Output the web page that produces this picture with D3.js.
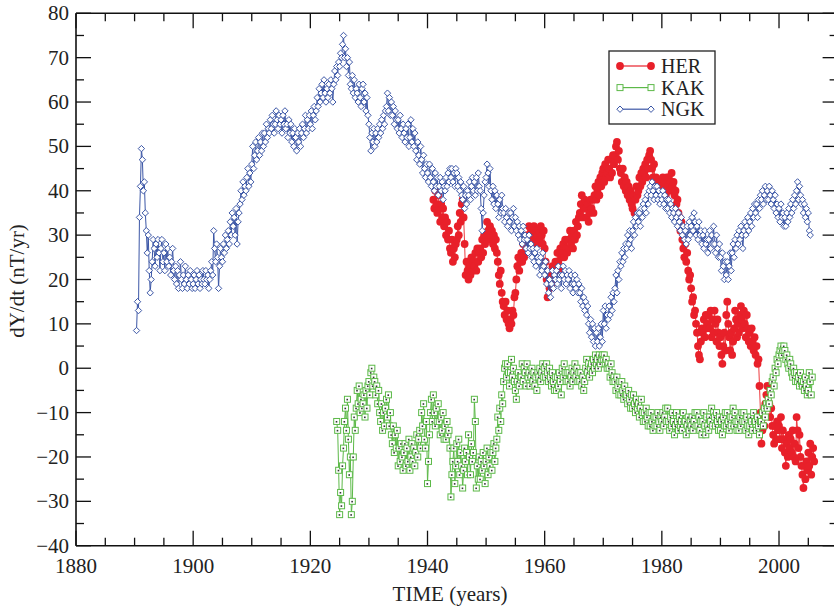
<!DOCTYPE html>
<html>
<head>
<meta charset="utf-8">
<script src="https://cdn.jsdelivr.net/npm/d3@7"></script>
<style>
  body { margin: 0; background: #fff; }
  svg { display: block; font-family: 'Liberation Serif', 'Times New Roman', serif; }
</style>
</head>
<body>
<div id="viz"></div>
<script>
// six samples per year (one row per year), first sample at the given start
const samplesPerYear = 6;

const ngkStart = 1890 + 2 / 6;
const ngkValues = [
  8.5, 15, 13, 34,
  41, 49.5, 47, 40, 42, 35,
  31, 26, 30, 22, 17, 20,
  24, 29, 27, 23, 28, 25,
  29, 26, 22, 27, 29, 24,
  26, 22, 28, 24, 27, 23,
  25, 21, 24, 27, 22, 20,
  23, 19, 22, 18, 21, 24,
  20, 18, 21, 19, 23, 20,
  18, 21, 19, 22, 20, 18,
  19, 21, 18, 20, 22, 19,
  21, 18, 20, 19, 22, 20,
  19, 22, 20, 21, 18, 20,
  22, 24, 21, 31, 27, 24,
  28, 25, 18, 23, 27, 25,
  24, 28, 26, 30, 27, 29,
  31, 28, 33, 30, 35, 32,
  34, 30, 36, 28, 33, 35,
  37, 40, 38, 42, 39, 41,
  40, 43, 45, 41, 44, 42,
  46, 50, 45, 48, 51, 47,
  49, 52, 48, 51, 49, 53,
  50, 53, 51, 55, 52, 54,
  53, 56, 54, 57, 55, 53,
  55, 58, 56, 54, 57, 55,
  56, 53, 57, 55, 58, 54,
  55, 52, 56, 53, 55, 51,
  53, 50, 54, 52, 49, 53,
  51, 54, 50, 53, 55, 52,
  54, 57, 53, 56, 54, 57,
  55, 58, 54, 57, 59, 56,
  58, 61, 59, 63, 60, 62,
  64, 61, 65, 62, 60, 63,
  61, 64, 62, 65, 63, 60,
  64, 67, 65, 68, 66, 69,
  68, 71, 70, 73, 75, 70,
  72, 68, 70, 66, 69, 64,
  63, 66, 62, 65, 61, 63,
  62, 60, 64, 61, 59, 63,
  64, 60, 62, 58, 61, 57,
  55, 52, 49, 53, 51, 54,
  50, 53, 51, 54, 52, 55,
  53, 56, 54, 57, 55, 58,
  59, 62, 58, 61, 57, 60,
  57, 59, 55, 58, 56, 54,
  56, 53, 57, 54, 52, 55,
  53, 51, 54, 52, 55, 50,
  52, 56, 51, 54, 50, 53,
  49, 47, 51, 48, 46, 50,
  47, 44, 48, 45, 43, 46,
  44, 42, 46, 43, 41, 45,
  42, 40, 44, 41, 43, 39,
  41, 43, 40, 42, 38, 41,
  40, 43, 41, 44, 42, 45,
  43, 45, 42, 44, 41, 45,
  44, 41, 43, 40, 42, 39,
  38, 41, 36, 39, 37, 40,
  39, 42, 38, 41, 43, 40,
  42, 39, 43, 40, 44, 41,
  40, 36, 31, 35, 39, 42,
  43, 46, 44, 41, 45, 40,
  38, 41, 37, 40, 36, 39,
  37, 34, 38, 35, 39, 36,
  35, 33, 36, 34, 32, 35,
  33, 35, 31, 34, 36, 32,
  34, 31, 33, 30, 32, 29,
  31, 28, 32, 29, 30, 27,
  29, 26, 30, 27, 28, 25,
  27, 24, 26, 23, 27, 25,
  24, 21, 25, 22, 26, 23,
  21, 24, 19, 22, 17, 20,
  16, 19, 22, 18, 21, 20,
  22, 19, 23, 20, 21, 18,
  21, 23, 20, 22, 19, 21,
  20, 22, 18, 21, 19, 17,
  19, 21, 18, 20, 17, 19,
  17, 15, 18, 14, 16, 13,
  15, 12, 14, 10, 8, 11,
  7, 10, 6, 9, 5, 8,
  6, 9, 5, 7, 10, 6,
  13, 10, 14, 9, 12, 11,
  14, 12, 16, 13, 17, 15,
  18, 21, 17, 22, 20, 24,
  23, 26, 24, 27, 25, 28,
  27, 30, 28, 31, 29, 27,
  31, 33, 30, 34, 32, 35,
  33, 35, 32, 36, 34, 37,
  36, 38, 35, 39, 37, 40,
  41, 39, 42, 40, 38, 41,
  39, 41, 38, 40, 37, 39,
  38, 40, 37, 39, 36, 38,
  36, 38, 35, 37, 34, 36,
  35, 33, 36, 34, 32, 35,
  33, 31, 34, 30, 32, 29,
  31, 28, 32, 29, 33, 30,
  32, 34, 31, 35, 33, 30,
  32, 29, 33, 30, 31, 28,
  30, 27, 31, 28, 29, 26,
  29, 31, 27, 30, 28, 32,
  28, 26, 30, 27, 25, 28,
  25, 22, 26, 23, 20, 24,
  21, 24, 20, 23, 26, 22,
  26, 28, 25, 29, 27, 30,
  28, 31, 29, 32, 30, 27,
  31, 33, 30, 32, 34, 31,
  33, 35, 32, 36, 34, 37,
  35, 37, 34, 38, 36, 39,
  38, 40, 37, 39, 41, 38,
  40, 38, 41, 39, 37, 40,
  38, 36, 39, 35, 37, 34,
  36, 33, 37, 34, 35, 32,
  34, 32, 35, 33, 36, 34,
  37, 35, 38, 36, 39, 37,
  40, 42, 38, 41, 39, 37,
  38, 35, 37, 34, 36, 33,
  35, 31, 30
];

const herStart = 1941;
const herValues = [
  38, 36, 40, 37, 35, 39,
  36, 33, 37, 34, 36, 32,
  34, 30, 33, 29, 31, 27,
  26, 29, 24, 27, 25, 28,
  29, 32, 30, 35, 33, 37,
  38, 34, 28, 21, 24, 22,
  20, 23, 21, 25, 22, 24,
  23, 26, 22, 27, 24, 26,
  27, 25, 29, 26, 30, 28,
  30, 33, 31, 29, 32, 30,
  31, 28, 30, 27, 29, 26,
  24, 21, 19, 22, 17, 15,
  14, 12, 15, 11, 13, 10,
  9, 11, 10, 13, 12, 16,
  17, 20, 23, 25, 22, 24,
  26, 24, 28, 25, 29, 27,
  30, 28, 32, 29, 31, 28,
  30, 32, 29, 31, 28, 30,
  31, 29, 32, 30, 28, 31,
  27, 24, 20, 16, 19, 18,
  21, 19, 23, 20, 22, 24,
  23, 26, 24, 22, 27, 25,
  26, 28, 25, 29, 27, 26,
  29, 27, 31, 28, 30, 27,
  31, 29, 33, 30, 32, 34,
  35, 37, 39, 34, 36, 38,
  36, 34, 37, 33, 35, 38,
  36, 38, 35, 39, 41, 38,
  40, 42, 39, 43, 41, 44,
  45, 42, 46, 43, 44, 47,
  45, 43, 47, 44, 48, 46,
  48, 50, 51, 47, 49, 45,
  44, 42, 45, 41, 43, 40,
  42, 39, 41, 38, 40, 37,
  36, 39, 35, 38, 41, 39,
  40, 43, 41, 44, 42, 45,
  44, 46, 43, 47, 45, 48,
  49, 47, 45, 43, 46, 41,
  43, 40, 42, 39, 41, 38,
  41, 43, 40, 42, 39, 43,
  41, 43, 40, 42, 44, 41,
  42, 39, 40, 37, 38, 35,
  34, 31, 33, 29, 27, 25,
  28, 24, 26, 22, 20, 21,
  18, 15, 16, 12, 13, 10,
  8, 5, 3, 2, 6, 9,
  8, 11, 7, 12, 9, 10,
  12, 9, 13, 7, 11, 8,
  13, 10, 6, 11, 8, 5,
  7, 3, 1, 5, 8, 4,
  12, 15, 10, 7, 4, 8,
  3, 6, 9, 13, 11, 7,
  10, 8, 12, 14, 11, 9,
  13, 10, 7, 12, 9, 6,
  8, 5, 9, 6, 4, 7,
  3, 5, 1, 2, -4, -10,
  -17, -14, -11, -13, -8, -6,
  -4, -6, -8, -11, -9, -13,
  -15, -17, -13, -16, -12, -14,
  -13, -16, -11, -18, -14, -16,
  -19, -22, -17, -20, -15, -18,
  -16, -19, -14, -20, -17, -21,
  -11, -14, -18, -15, -20, -22,
  -24, -27, -22, -25, -21, -23,
  -19, -22, -17, -24, -20, -18,
  -21
];

const kakStart = 1924.5;
const kakValues = [
  -12, -14, -23,
  -33, -28, -31, -22, -18, -12,
  -9, -14, -7, -16, -24, -20,
  -33, -30, -20, -11, -14, -9,
  -5, -8, -4, -10, -7, -9,
  -8, -6, -11, -5, -9, -4,
  -3, -6, -1, 0, -4, -2,
  -3, -6, -4, -8, -5, -10,
  -12, -8, -14, -10, -13, -9,
  -7, -11, -6, -13, -10, -15,
  -17, -13, -19, -15, -18, -14,
  -22, -18, -21, -17, -20, -23,
  -19, -17, -22, -18, -21, -16,
  -23, -20, -17, -21, -18, -22,
  -19, -15, -20, -16, -14, -18,
  -10, -13, -8, -16, -18, -12,
  -26, -21, -15, -10, -7, -12,
  -6, -10, -13, -9, -12, -8,
  -12, -15, -11, -14, -10, -16,
  -13, -16, -12, -15, -14, -18,
  -29, -24, -21, -18, -26, -22,
  -17, -21, -16, -24, -19, -22,
  -27, -23, -18, -21, -19, -24,
  -15, -20, -24, -17, -21, -19,
  -7, -12, -27, -22, -25, -20,
  -25, -21, -23, -19, -22, -26,
  -21, -18, -24, -20, -22, -19,
  -23, -19, -17, -21, -18, -16,
  -11, -14, -9, -12, -6, -8,
  -3, 0, 1, -2, 1, -1,
  -4, -1, 2, -2, 0, -3,
  -5, -7, -3, -1, -4, -2,
  -2, 1, -3, 0, -1, -4,
  1, -2, -1, -4, -2, 0,
  -3, -1, -4, -2, -5, -1,
  -2, 0, -3, -1, 1, -2,
  0, -2, 1, -1, -3, 0,
  -2, -4, -1, -3, -5, -2,
  -5, -2, -4, -1, -3, -6,
  0, -2, 1, -1, -3, -1,
  -3, -1, -4, -2, 0, -3,
  -1, 1, -2, 0, -3, -1,
  -3, -1, -4, -2, -5, -3,
  0, 2, -1, 1, -2, 0,
  1, -1, 2, 0, 3, 1,
  2, 0, 3, 1, 2, 3,
  2, 3, 1, 2, 0, 1,
  0, -2, 1, -1, -3, -2,
  -3, -5, -2, -4, -6, -3,
  -6, -3, -5, -7, -4, -6,
  -6, -8, -5, -7, -9, -6,
  -9, -6, -8, -10, -7, -9,
  -8, -11, -9, -7, -10, -12,
  -10, -12, -9, -11, -13, -10,
  -13, -10, -12, -14, -11, -13,
  -11, -13, -10, -12, -14, -11,
  -12, -10, -13, -11, -9, -12,
  -9, -12, -14, -11, -13, -10,
  -12, -15, -13, -10, -12, -14,
  -11, -13, -12, -14, -10, -12,
  -12, -15, -13, -11, -14, -12,
  -13, -11, -14, -12, -10, -13,
  -10, -13, -11, -14, -12, -15,
  -12, -10, -13, -15, -11, -13,
  -14, -11, -12, -9, -13, -10,
  -11, -13, -10, -12, -14, -11,
  -14, -12, -15, -11, -13, -10,
  -13, -10, -12, -14, -11, -13,
  -11, -9, -13, -10, -12, -14,
  -12, -14, -11, -13, -10, -12,
  -10, -12, -14, -11, -13, -15,
  -13, -11, -12, -14, -10, -12,
  -12, -14, -11, -13, -15, -12,
  -12, -10, -13, -9, -11, -8,
  -9, -7, -8, -5, -6, -3,
  -2, -4, 0, -1, 2, 1,
  3, 4, 5, 3, 4, 5,
  4, 2, 3, 1, 0, 2,
  1, -1, -2, 0, -1, -3,
  -1, -3, -2, -4, -1, -3,
  -4, -3, -5, -2, -4, -6,
  -5, -1, -3, -6, -2
];

const xTicks = [1880, 1900, 1920, 1940, 1960, 1980, 2000];
const yTicks = [-40, -30, -20, -10, 0, 10, 20, 30, 40, 50, 60, 70, 80];
const seriesNames = ['HER', 'KAK', 'NGK'];

const w = 834, h = 607;
const mLeft = 76, mTop = 13.3, mRight = 837.6, mBottom = 545.7;

const svg = d3.select('#viz').append('svg').attr('width', w).attr('height', h);

const x = d3.scaleLinear().domain([1880, 2010]).range([mLeft, mRight]);
const y = d3.scaleLinear().domain([-40, 80]).range([mBottom, mTop]);

function toPoints(start, vals) {
  return vals.map((v, i) => ({ t: start + i / samplesPerYear, v: v }));
}
const her = toPoints(herStart, herValues);
const kak = toPoints(kakStart, kakValues);
const ngk = toPoints(ngkStart, ngkValues);

const line = d3.line().x(d => x(d.t)).y(d => y(d.v));

// HER
svg.append('path').datum(her).attr('d', line)
  .attr('fill', 'none').attr('stroke', '#ee3b3f').attr('stroke-width', 1);
svg.selectAll('.her').data(her).enter().append('circle')
  .attr('class', 'her')
  .attr('cx', d => x(d.t)).attr('cy', d => y(d.v)).attr('r', 3.9)
  .attr('fill', '#e8202a');

// KAK
svg.append('path').datum(kak).attr('d', line)
  .attr('fill', 'none').attr('stroke', '#5cb948').attr('stroke-width', 1);
const kg = svg.selectAll('.kak').data(kak).enter().append('g')
  .attr('class', 'kak')
  .attr('transform', d => 'translate(' + x(d.t) + ',' + y(d.v) + ')');
kg.append('rect').attr('x', -3).attr('y', -3).attr('width', 6).attr('height', 6)
  .attr('fill', '#fff').attr('stroke', '#5cb948').attr('stroke-width', 1);
kg.append('rect').attr('x', -1).attr('y', -0.5).attr('width', 1.6).attr('height', 1.6)
  .attr('fill', '#333');

// NGK
svg.append('path').datum(ngk).attr('d', line)
  .attr('fill', 'none').attr('stroke', '#3b56a6').attr('stroke-width', 1);
const diamond = d3.symbol().type(d3.symbolDiamond2).size(26);
svg.selectAll('.ngk').data(ngk).enter().append('path')
  .attr('class', 'ngk')
  .attr('d', diamond)
  .attr('transform', d => 'translate(' + x(d.t) + ',' + y(d.v) + ')')
  .attr('fill', '#fff').attr('stroke', '#3b56a6').attr('stroke-width', 1);

// frame
const frame = svg.append('g').attr('stroke', '#111').attr('stroke-width', 1.6);
frame.append('line').attr('x1', mLeft).attr('x2', mRight).attr('y1', mBottom).attr('y2', mBottom);
frame.append('line').attr('x1', mLeft).attr('x2', mRight).attr('y1', mTop).attr('y2', mTop);
frame.append('line').attr('x1', mLeft).attr('x2', mLeft).attr('y1', mTop).attr('y2', mBottom);
frame.append('line').attr('x1', mRight).attr('x2', mRight).attr('y1', mTop).attr('y2', mBottom);

// ticks, pointing inward on all four sides
const xMinor = d3.range(1885, 2010, 5).filter(v => v % 20 !== 0);
const yMinor = d3.range(-35, 80, 10);
const tk = svg.append('g').attr('stroke', '#111').attr('stroke-width', 1.3);
xTicks.forEach(v => {
  tk.append('line').attr('x1', x(v)).attr('x2', x(v)).attr('y1', mBottom).attr('y2', mBottom - 15);
  tk.append('line').attr('x1', x(v)).attr('x2', x(v)).attr('y1', mTop).attr('y2', mTop + 15);
});
xMinor.forEach(v => {
  tk.append('line').attr('x1', x(v)).attr('x2', x(v)).attr('y1', mBottom).attr('y2', mBottom - 8);
  tk.append('line').attr('x1', x(v)).attr('x2', x(v)).attr('y1', mTop).attr('y2', mTop + 8);
});
yTicks.forEach(v => {
  tk.append('line').attr('y1', y(v)).attr('y2', y(v)).attr('x1', mLeft).attr('x2', mLeft + 15);
  tk.append('line').attr('y1', y(v)).attr('y2', y(v)).attr('x1', mRight).attr('x2', mRight - 15);
});
yMinor.forEach(v => {
  tk.append('line').attr('y1', y(v)).attr('y2', y(v)).attr('x1', mLeft).attr('x2', mLeft + 8);
  tk.append('line').attr('y1', y(v)).attr('y2', y(v)).attr('x1', mRight).attr('x2', mRight - 8);
});

// tick labels
const fmt = d3.format('d');
svg.selectAll('.xl').data(xTicks).enter().append('text')
  .attr('x', d => x(d)).attr('y', mBottom + 27)
  .attr('text-anchor', 'middle').style('font-size', '21px').attr('fill', '#222')
  .text(d => fmt(d));
svg.selectAll('.yl').data(yTicks).enter().append('text')
  .attr('x', mLeft - 7).attr('y', d => y(d) + 7)
  .attr('text-anchor', 'end').style('font-size', '21px').attr('fill', '#222')
  .text(d => fmt(d));

// axis titles
svg.append('text').text('TIME (years)')
  .attr('x', 450).attr('y', 601).attr('text-anchor', 'middle')
  .style('font-size', '21px').attr('fill', '#222');
svg.append('text').text('dY/dt (nT/yr)')
  .attr('transform', 'rotate(-90)')
  .attr('x', -281).attr('y', 24).attr('text-anchor', 'middle')
  .style('font-size', '21px').attr('fill', '#222');

// legend
const lg = svg.append('g');
lg.append('rect').attr('x', 609).attr('y', 51).attr('width', 106).attr('height', 73)
  .attr('fill', '#fff').attr('stroke', '#222').attr('stroke-width', 1.3);
const colors = ['#e8202a', '#5cb948', '#3b56a6'];
seriesNames.forEach((name, i) => {
  const cy = 66 + i * 21.6;
  lg.append('line').attr('x1', 620).attr('x2', 651).attr('y1', cy).attr('y2', cy)
    .attr('stroke', colors[i]).attr('stroke-width', 1.2);
  [620, 651].forEach(cx => {
    if (i === 0) {
      lg.append('circle').attr('cx', cx).attr('cy', cy).attr('r', 3.9).attr('fill', colors[0]);
    } else if (i === 1) {
      lg.append('rect').attr('x', cx - 3).attr('y', cy - 3).attr('width', 6).attr('height', 6)
        .attr('fill', '#fff').attr('stroke', colors[1]);
    } else {
      lg.append('path').attr('d', diamond).attr('transform', 'translate(' + cx + ',' + cy + ')')
        .attr('fill', '#fff').attr('stroke', colors[2]);
    }
  });
  lg.append('text').text(name).attr('x', 661).attr('y', cy + 7)
    .style('font-size', '20px').attr('fill', '#222');
});
</script>
</body>
</html>
